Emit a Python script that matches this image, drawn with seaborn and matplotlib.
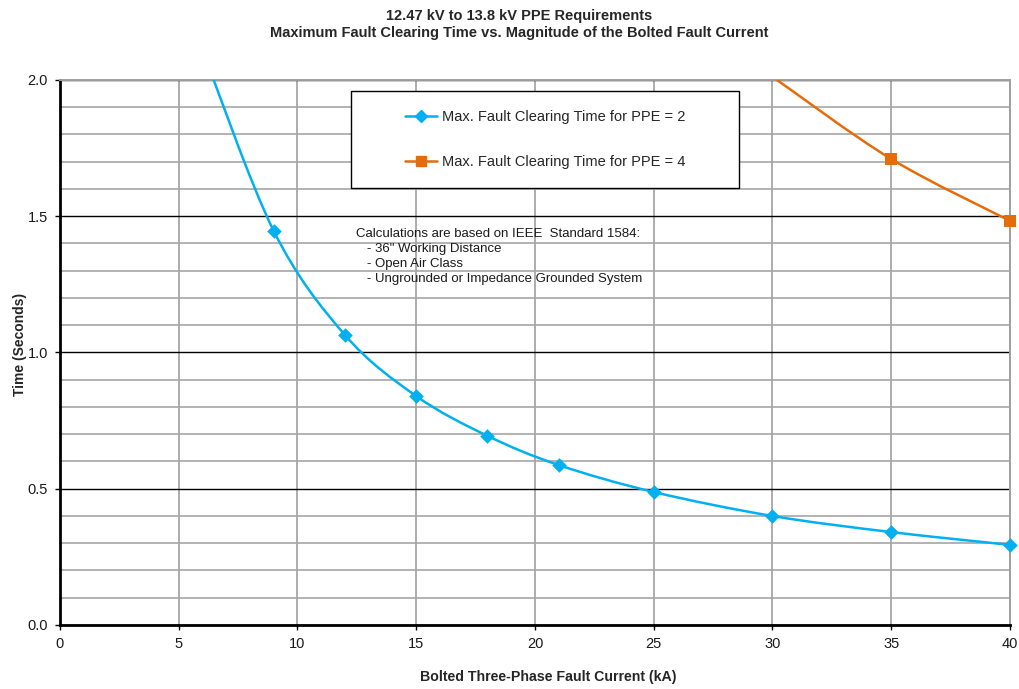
import numpy as np
import pandas as pd
import seaborn as sns
import matplotlib.pyplot as plt
from matplotlib.path import Path
from matplotlib.patches import PathPatch, Rectangle
from matplotlib.lines import Line2D
from matplotlib.ticker import MultipleLocator

# data (first point of each series lies above the 2.0 axis limit)
current_ppe2 = [6, 9, 12, 15, 18, 21, 25, 30, 35, 40]
time_ppe2 = [2.11, 1.446, 1.064, 0.840, 0.694, 0.587, 0.488, 0.400, 0.341, 0.294]
current_ppe4 = [30, 35, 40]
time_ppe4 = [2.012, 1.710, 1.483]

label_ppe2 = "Max. Fault Clearing Time for PPE = 2"
label_ppe4 = "Max. Fault Clearing Time for PPE = 4"
blue = "#00B0F0"
orange = "#E46C0A"

sns.set_theme(style="white")
plt.rcParams["font.family"] = ["Liberation Sans", "DejaVu Sans"]


def smooth_path(xs, ys):
    # Excel-like smoothed line: Catmull-Rom segments as cubic Bezier curves
    pts = np.column_stack([xs, ys]).astype(float)
    ext = np.vstack([pts[0], pts, pts[-1]])
    verts = [pts[0]]
    codes = [Path.MOVETO]
    for i in range(1, len(ext) - 2):
        p0, p1, p2, p3 = ext[i - 1], ext[i], ext[i + 1], ext[i + 2]
        verts += [p1 + (p2 - p0) / 6, p2 - (p3 - p1) / 6, p2]
        codes += [Path.CURVE4] * 3
    return Path(verts, codes)


fig = plt.figure(figsize=(10.2, 6.89), dpi=100)
ax = fig.add_axes([0.0588, 0.0929, 0.9314, 0.7910])

for xs, ys, col in [(current_ppe2, time_ppe2, blue), (current_ppe4, time_ppe4, orange)]:
    ax.add_patch(PathPatch(smooth_path(xs, ys), fill=False, edgecolor=col, lw=1.8, zorder=3))

df2 = pd.DataFrame({"current": current_ppe2, "time": time_ppe2})
df4 = pd.DataFrame({"current": current_ppe4, "time": time_ppe4})
sns.scatterplot(data=df2[df2["time"] <= 2.0], x="current", y="time", marker="D", s=55,
                color=blue, edgecolor=blue, linewidth=0, ax=ax, zorder=4, clip_on=False)
sns.scatterplot(data=df4[df4["time"] <= 2.0], x="current", y="time", marker="s", s=75,
                color=orange, edgecolor=orange, linewidth=0, ax=ax, zorder=4, clip_on=False)

ax.set_xlim(0, 40)
ax.set_ylim(0, 2.0)
ax.xaxis.set_major_locator(MultipleLocator(5))
ax.yaxis.set_major_locator(MultipleLocator(0.5))
ax.yaxis.set_minor_locator(MultipleLocator(0.1))
ax.yaxis.set_major_formatter(plt.FormatStrFormatter("%.1f"))

ax.set_axisbelow(True)
ax.xaxis.grid(True, which="major", color="#A0A0A0", lw=1.2)
ax.yaxis.grid(True, which="minor", color="#A6A6A6", lw=1.2)
ax.yaxis.grid(True, which="major", color="black", lw=1.0)

for side in ["left", "bottom"]:
    ax.spines[side].set_color("black")
    ax.spines[side].set_linewidth(2)
for side in ["top", "right"]:
    ax.spines[side].set_color("#A0A0A0")
    ax.spines[side].set_linewidth(1.4)

ax.tick_params(which="major", direction="out", length=3.6, width=1, color="black",
               labelsize=10.5, labelcolor="#1a1a1a", pad=5, left=True, bottom=True)
ax.tick_params(which="minor", length=0)

ax.set_xlabel("Bolted Three-Phase Fault Current (kA)", fontsize=10.2, fontweight="bold")
ax.set_ylabel("Time (Seconds)", fontsize=10, fontweight="bold")
ax.xaxis.set_label_coords(0.5137, -0.0826)
ax.yaxis.set_label_coords(-0.0342, 0.5156)

fig.text(0.509, 0.977, "12.47 kV to 13.8 kV PPE Requirements", ha="center", va="center",
         fontsize=10.5, fontweight="bold")
fig.text(0.509, 0.952, "Maximum Fault Clearing Time vs. Magnitude of the Bolted Fault Current",
         ha="center", va="center", fontsize=10.5, fontweight="bold")

# legend box
ax.add_patch(Rectangle((0.3063, 0.802), 0.4084, 0.178, transform=ax.transAxes,
                       facecolor="white", edgecolor="black", lw=1, zorder=5))
handles = [Line2D([], [], color=blue, lw=1.8, marker="D", markersize=6.5),
           Line2D([], [], color=orange, lw=1.8, marker="s", markersize=7.5)]
leg = ax.legend(handles, [label_ppe2, label_ppe4], loc="center",
                bbox_to_anchor=(0.5105, 0.891), frameon=False, fontsize=10.5,
                labelspacing=2.14, handlelength=2.2, handletextpad=0.35)
leg.set_zorder(6)

ax.text(12.46, 1.458,
        "Calculations are based on IEEE  Standard 1584:\n"
        "   - 36\" Working Distance\n"
        "   - Open Air Class\n"
        "   - Ungrounded or Impedance Grounded System",
        ha="left", va="top", fontsize=9.5, linespacing=1.33, color="#1a1a1a", zorder=5)

fig.savefig("out.png", dpi=100)
